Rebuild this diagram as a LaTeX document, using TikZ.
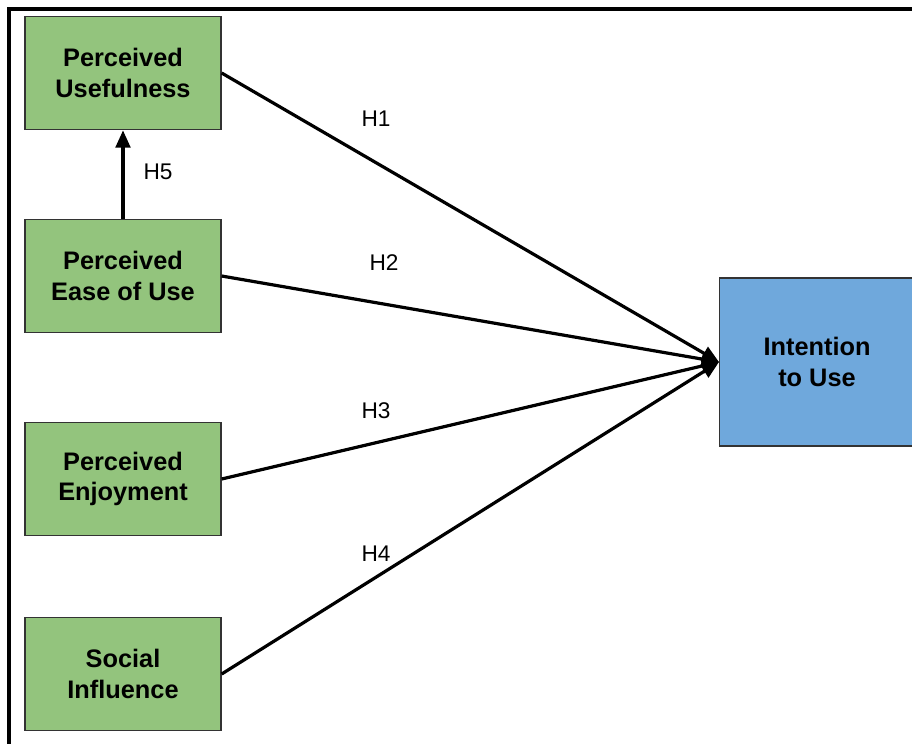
\documentclass[tikz,border=0pt]{standalone}
\usepackage{fontspec}
\setmainfont{Liberation Sans}
\usetikzlibrary{arrows.meta}
\definecolor{boxgreen}{HTML}{93C47D}
\definecolor{boxblue}{HTML}{6FA8DC}
\definecolor{boxedge}{HTML}{333333}
\begin{document}
\begin{tikzpicture}[x=0.75pt,y=-0.75pt,
  construct/.style={draw=boxedge,line width=1pt,fill=boxgreen,minimum width=147pt,minimum height=85pt,inner sep=0pt,align=center,font=\fontsize{19}{23}\selectfont\bfseries},
  target/.style={draw=boxedge,line width=1pt,fill=boxblue,minimum width=150pt,minimum height=126pt,inner sep=0pt,align=center},
  hyp/.style={line width=2.4pt,-{Triangle[length=13pt,width=11pt]}},
  hlabel/.style={font=\fontsize{17}{20}\selectfont}]
\useasboundingbox (0,0) rectangle (912,743);
\draw[line width=2.4pt] (9,760) -- (9,9) -- (930,9);
\node[construct] (PU) at (123,73) {Perceived\\Usefulness};
\node[construct] (PEOU) at (123,276) {Perceived\\Ease of Use};
\node[construct] (PE) at (123,479) {Perceived\\Enjoyment};
\node[construct] (SI) at (123,674) {Social\\Influence};
\node[target,anchor=west] (IU) at (719,362) {};
\node[font=\fontsize{19}{23}\selectfont\bfseries,align=center] (IUt) at (817,362) {Intention\\to Use};
\draw[hyp] (PU.east) -- (IU.west);
\draw[hyp] (PEOU.east) -- (IU.west);
\draw[hyp] (PE.east) -- (IU.west);
\draw[hyp] (SI.east) -- (IU.west);
\draw[hyp] (PEOU.north) -- (PU.south);
\node[hlabel] (h1) at (376,119) {H1};
\node[hlabel] (h2) at (384,263) {H2};
\node[hlabel] (h3) at (376,411) {H3};
\node[hlabel] (h4) at (376,554) {H4};
\node[hlabel] (h5) at (158,172) {H5};
\end{tikzpicture}
\end{document}
